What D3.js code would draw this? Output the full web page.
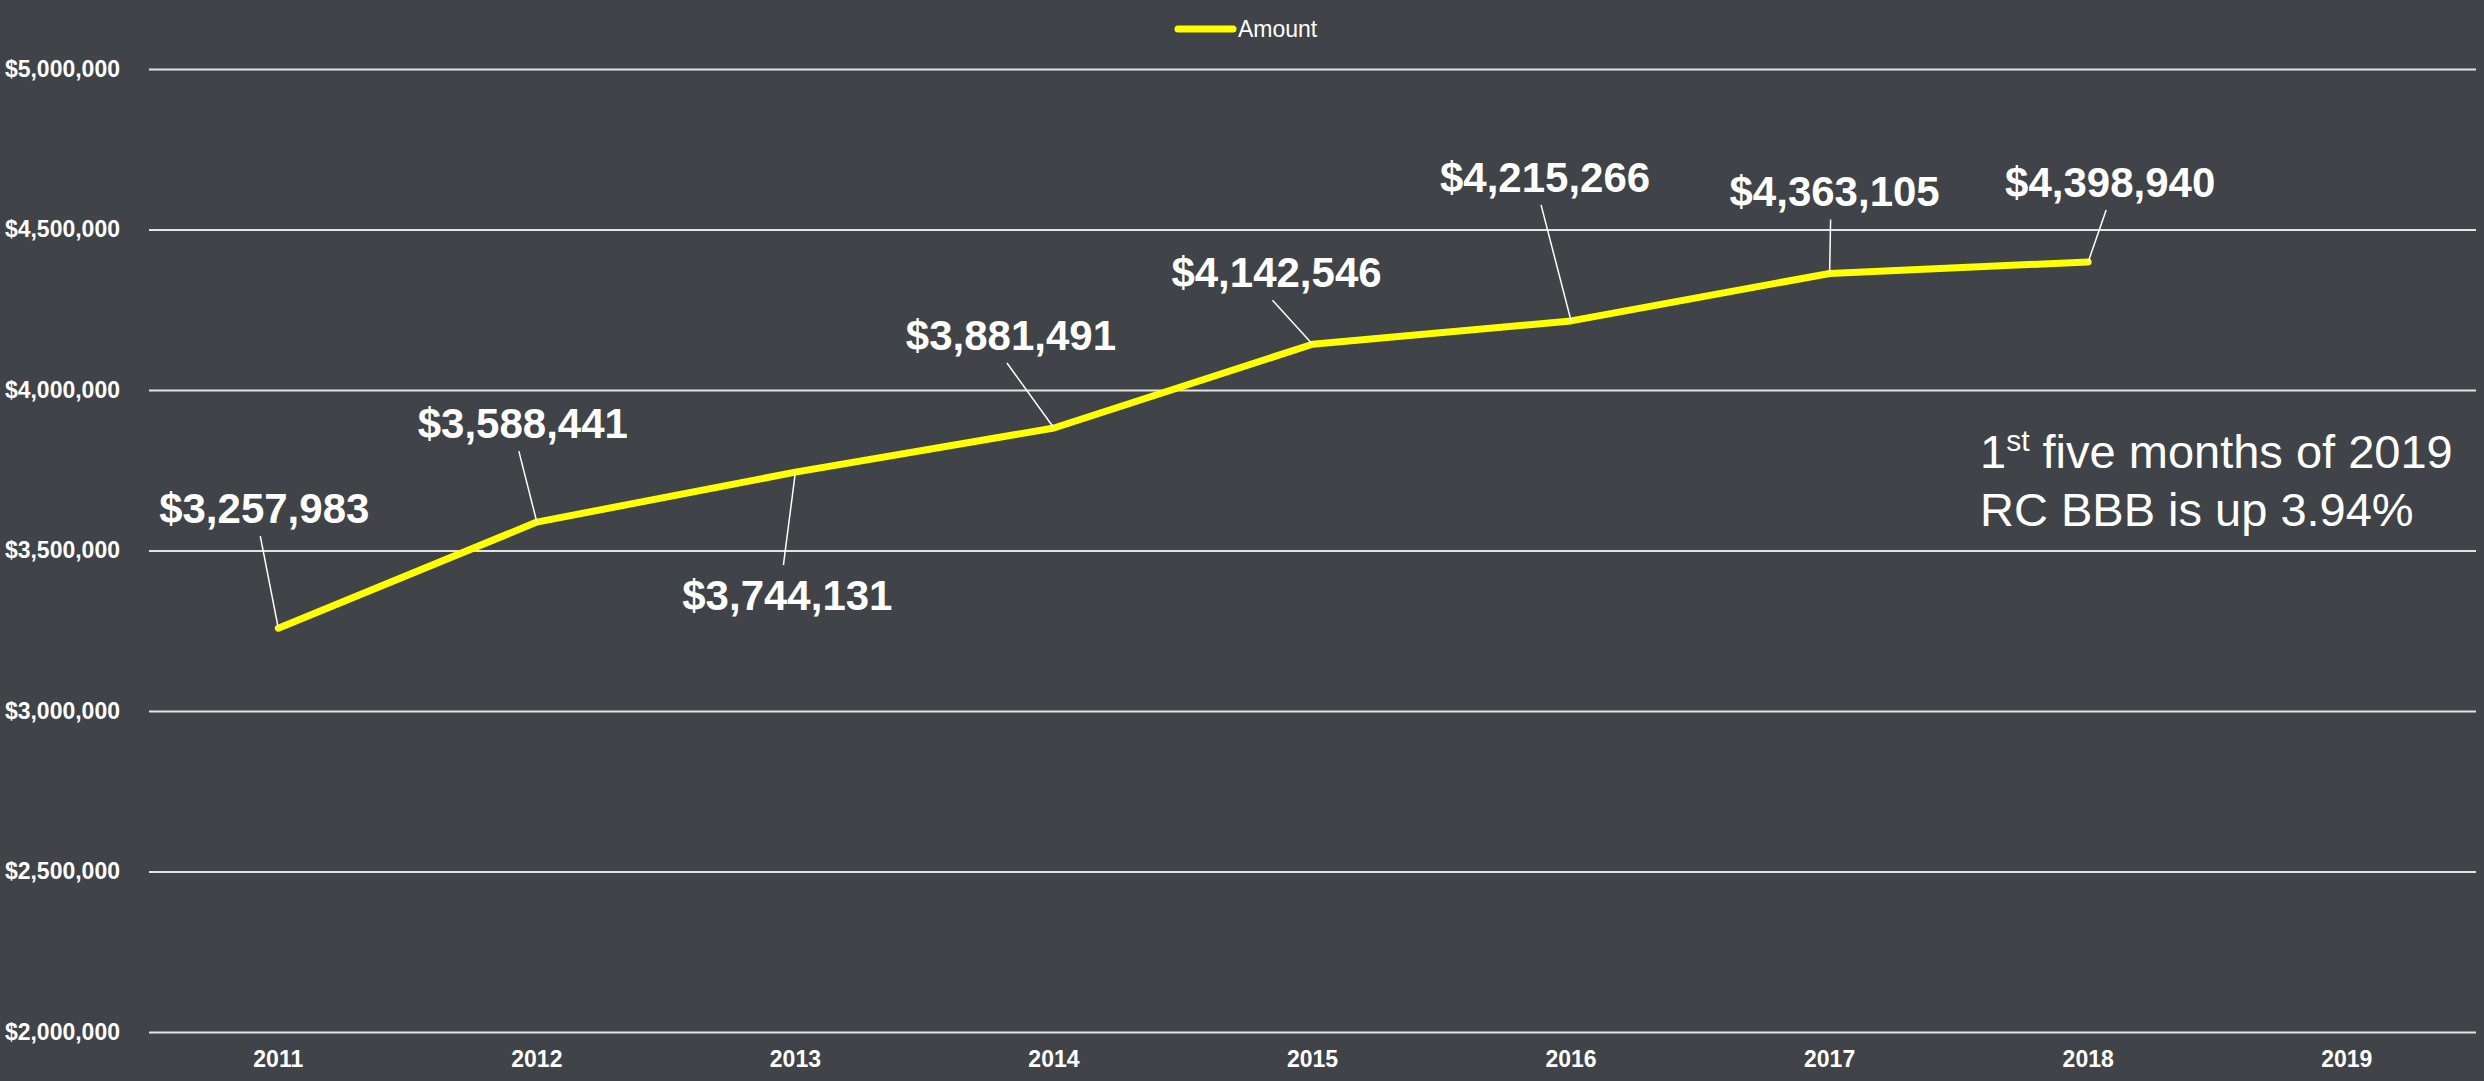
<!DOCTYPE html>
<html>
<head>
<meta charset="utf-8">
<script src="https://cdn.jsdelivr.net/npm/d3@7"></script>
<style>
  html, body { margin: 0; padding: 0; background: #404348; }
  svg { display: block; font-family: "Liberation Sans", Arial, sans-serif; }
</style>
</head>
<body>
<svg id="chart" width="2484" height="1081"></svg>
<script>
// data
const years = ["2011", "2012", "2013", "2014", "2015", "2016", "2017", "2018", "2019"];
const amounts = [3257983, 3588441, 3744131, 3881491, 4142546, 4215266, 4363105, 4398940];
const yTicks = [2000000, 2500000, 3000000, 3500000, 4000000, 4500000, 5000000];
const seriesName = "Amount";
const noteLines = ["five months of 2019", "RC BBB is up 3.94%"];

// where each value label sits relative to its point [dx, dy of baseline]
const labelOffsets = [[-14, -105], [-14, -84], [-8, 138], [-43, -78], [-36, -57], [-26, -129], [5, -67], [22, -65]];

const W = 2484, H = 1081;
const margin = { top: 69, right: 8, bottom: 49, left: 149 };

const svg = d3.select("#chart");
svg.append("rect").attr("width", W).attr("height", H).attr("fill", "#404348");

const x = d3.scaleBand()
    .domain(years)
    .range([margin.left, W - margin.right]);

const y = d3.scaleLinear()
    .domain([2000000, 5000000])
    .range([H - margin.bottom, margin.top]);

// y axis with gridlines
const yAxis = svg.append("g")
    .attr("transform", `translate(${margin.left},0)`)
    .call(d3.axisLeft(y)
        .tickValues(yTicks)
        .tickSize(-(W - margin.left - margin.right))
        .tickPadding(29)
        .tickFormat(d3.format("$,.0f")));
yAxis.select(".domain").remove();
yAxis.selectAll(".tick line")
    .attr("stroke", "#e4e4e4")
    .attr("stroke-width", 2);
yAxis.selectAll(".tick text")
    .attr("fill", "#ffffff")
    .attr("font-size", 23)
    .attr("font-weight", "bold")
    .attr("font-family", "Liberation Sans, Arial, sans-serif");

// x axis labels
const xAxis = svg.append("g")
    .attr("transform", `translate(0,${H - margin.bottom})`)
    .call(d3.axisBottom(x).tickSize(0).tickPadding(19));
xAxis.select(".domain").remove();
xAxis.selectAll(".tick text")
    .attr("fill", "#ffffff")
    .attr("font-size", 23)
    .attr("font-weight", "bold")
    .attr("font-family", "Liberation Sans, Arial, sans-serif");

const cx = i => x(years[i]) + x.bandwidth() / 2;

// line
const line = d3.line()
    .x((d, i) => cx(i))
    .y(d => y(d));

svg.append("path")
    .datum(amounts)
    .attr("fill", "none")
    .attr("stroke", "#ffff00")
    .attr("stroke-width", 7)
    .attr("stroke-linejoin", "round")
    .attr("stroke-linecap", "round")
    .attr("d", line);

// value labels with leader lines
const fmt = d3.format("$,.0f");
const labels = svg.append("g");

amounts.forEach((v, i) => {
    const px = cx(i), py = y(v);
    const [dx, dy] = labelOffsets[i];
    const below = dy > 0;
    const lx = px + dx - 4;
    const ly = below ? py + dy - 45 : py + dy + 13;
    labels.append("line")
        .attr("x1", lx).attr("y1", ly)
        .attr("x2", px).attr("y2", py)
        .attr("stroke", "#ffffff")
        .attr("stroke-width", 1.5);
    labels.append("text")
        .attr("x", px + dx)
        .attr("y", py + dy)
        .attr("text-anchor", "middle")
        .attr("fill", "#ffffff")
        .attr("font-size", 42)
        .attr("font-weight", "bold")
        .text(fmt(v));
});

// legend
const legend = svg.append("g");
legend.append("line")
    .attr("x1", 1178).attr("x2", 1233)
    .attr("y1", 29).attr("y2", 29)
    .attr("stroke", "#ffff00")
    .attr("stroke-width", 7)
    .attr("stroke-linecap", "round");
legend.append("text")
    .attr("x", 1238).attr("y", 37)
    .attr("fill", "#ffffff")
    .attr("font-size", 23)
    .text(seriesName);

// note
const note = svg.append("text")
    .attr("x", 1980)
    .attr("y", 468)
    .attr("fill", "#ffffff")
    .attr("font-size", 47);
note.append("tspan").text("1");
note.append("tspan").attr("dy", -17).attr("font-size", 30).text("st");
note.append("tspan").attr("dy", 17).text(" " + noteLines[0]);
svg.append("text")
    .attr("x", 1980)
    .attr("y", 526)
    .attr("fill", "#ffffff")
    .attr("font-size", 47)
    .text(noteLines[1]);
</script>
</body>
</html>
